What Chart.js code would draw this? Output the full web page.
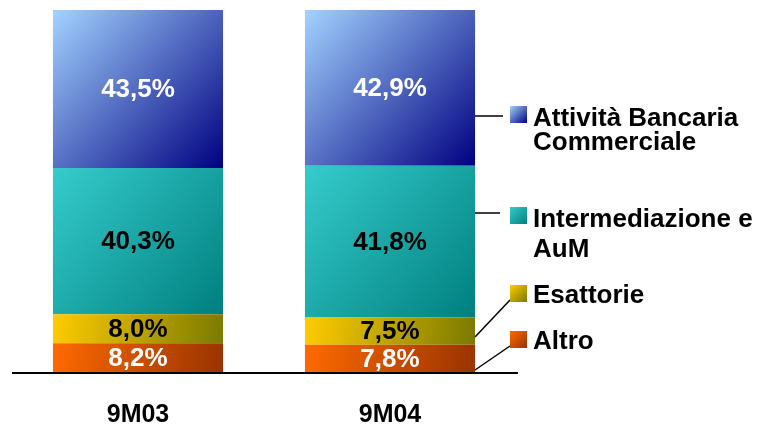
<!DOCTYPE html>
<html>
<head>
<meta charset="utf-8">
<script src="https://cdn.jsdelivr.net/npm/chart.js@4"></script>
<style>
    html, body { margin: 0; padding: 0; background: #fff; }
</style>
</head>
<body>
<canvas id="chart" width="761" height="424"></canvas>
<script>
// data
const periods = ['9M03', '9M04'];
const altro = [8.2, 7.8];
const esattorie = [8.0, 7.5];
const intermediazione = [40.3, 41.8];
const attivita = [43.5, 42.9];
const legendLines = [
    ['Attività Bancaria', 'Commerciale'],
    ['Intermediazione e', 'AuM'],
    ['Esattorie'],
    ['Altro']
];

const FONT = '"Liberation Sans", Arial, sans-serif';
const barPct = 0.675;

// gradient stops: light top-left -> dark bottom-right
const gradAltro = ['#ff6a00', '#993300'];
const gradEsatt = ['#ffcc00', '#7a7a00'];
const gradInterm = ['#36cccc', '#007f7f'];
const gradAttiv = ['#a3d3ff', '#000080'];

function segGradient(ctx, colors) {
    const chart = ctx.chart;
    const xs = chart.scales.x;
    const ys = chart.scales.y;
    if (!xs || !ys || ctx.type !== 'data') return colors[0];
    const i = ctx.dataIndex;
    const d = ctx.datasetIndex;
    let base = 0;
    for (let k = 0; k < d; k++) base += chart.data.datasets[k].data[i];
    const v = chart.data.datasets[d].data[i];
    const cx = xs.getPixelForValue(i);
    const half = xs.width / periods.length * barPct / 2;
    const top = ys.getPixelForValue(base + v);
    const bot = ys.getPixelForValue(base);
    if (![cx, half, top, bot].every(isFinite)) return colors[0];
    const g = chart.ctx.createLinearGradient(cx - half, top, cx + half, bot);
    g.addColorStop(0, colors[0]);
    g.addColorStop(1, colors[1]);
    return g;
}

const labelColors = ['#ffffff', '#000000', '#000000', '#ffffff'];

const decorPlugin = {
    id: 'decor',
    afterDatasetsDraw(chart) {
        const c = chart.ctx;
        const xs = chart.scales.x;
        c.save();

        // value labels
        c.font = 'bold 26px ' + FONT;
        c.textAlign = 'center';
        c.textBaseline = 'middle';
        chart.data.datasets.forEach((ds, d) => {
            chart.getDatasetMeta(d).data.forEach((el, i) => {
                c.fillStyle = labelColors[d];
                const txt = ds.data[i].toFixed(1).replace('.', ',') + '%';
                c.fillText(txt, el.x, (el.y + el.base) / 2 + 1);
            });
        });

        // baseline
        c.strokeStyle = '#000';
        c.lineWidth = 2;
        c.beginPath();
        c.moveTo(12, 373);
        c.lineTo(518, 373);
        c.stroke();

        // category labels
        c.fillStyle = '#000';
        c.font = 'bold 25px ' + FONT;
        c.textBaseline = 'alphabetic';
        periods.forEach((p, i) => {
            c.fillText(p, xs.getPixelForValue(i), 422);
        });

        // leader lines
        c.lineWidth = 1.5;
        const leaders = [
            [475, 116, 503, 116],
            [475, 213, 500, 213],
            [475, 337, 510, 300],
            [475, 370, 510, 346]
        ];
        leaders.forEach(l => {
            c.beginPath();
            c.moveTo(l[0], l[1]);
            c.lineTo(l[2], l[3]);
            c.stroke();
        });

        // legend
        const grads = [gradAttiv, gradInterm, gradEsatt, gradAltro];
        const boxTops = [106, 207, 285, 331];
        const firstBase = [126, 227, 303, 349];
        const lineGap = [24, 30, 0, 0];
        c.font = 'bold 26px ' + FONT;
        c.textAlign = 'left';
        legendLines.forEach((lines, k) => {
            const y0 = boxTops[k];
            const g = c.createLinearGradient(510, y0, 527, y0 + 17);
            g.addColorStop(0, grads[k][0]);
            g.addColorStop(1, grads[k][1]);
            c.fillStyle = g;
            c.fillRect(510, y0, 17, 17);
            c.fillStyle = '#000';
            lines.forEach((t, j) => {
                c.fillText(t, 533, firstBase[k] + j * lineGap[k]);
            });
        });

        c.restore();
    }
};

new Chart(document.getElementById('chart'), {
    type: 'bar',
    data: {
        labels: periods,
        datasets: [
            { label: 'Altro', data: altro, backgroundColor: ctx => segGradient(ctx, gradAltro) },
            { label: 'Esattorie', data: esattorie, backgroundColor: ctx => segGradient(ctx, gradEsatt) },
            { label: 'Intermediazione e AuM', data: intermediazione, backgroundColor: ctx => segGradient(ctx, gradInterm) },
            { label: 'Attività Bancaria Commerciale', data: attivita, backgroundColor: ctx => segGradient(ctx, gradAttiv) }
        ]
    },
    options: {
        responsive: false,
        animation: false,
        layout: { padding: { top: 10, left: 12, right: 245, bottom: 51 } },
        datasets: {
            bar: { barPercentage: barPct, categoryPercentage: 1, borderWidth: 0 }
        },
        scales: {
            x: { display: false, stacked: true },
            y: { display: false, stacked: true, min: 0, max: 100 }
        },
        plugins: {
            legend: { display: false },
            tooltip: { enabled: false }
        }
    },
    plugins: [decorPlugin]
});
</script>
</body>
</html>
